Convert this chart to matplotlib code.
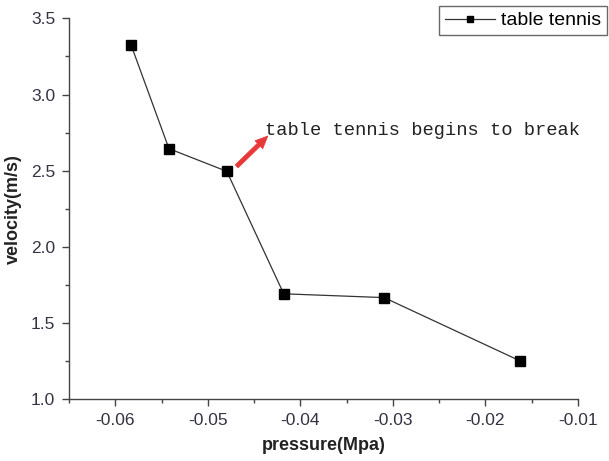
import matplotlib.pyplot as plt

# pressure vs. velocity for the table tennis ball
pressure = [-0.0583, -0.0542, -0.04795, -0.0418, -0.03095, -0.0163]
velocity = [3.327, 2.644, 2.495, 1.690, 1.665, 1.250]
x_ticks = [-0.06, -0.05, -0.04, -0.03, -0.02, -0.01]
y_ticks = [1.0, 1.5, 2.0, 2.5, 3.0, 3.5]

plt.rcParams['font.family'] = ['Liberation Sans', 'DejaVu Sans']

fig = plt.figure(figsize=(6.09, 4.61), dpi=100)
ax = fig.add_axes([0.1133, 0.135, 0.8358, 0.825])

ax.plot(pressure, velocity, color='#333333', lw=0.9, marker='s', ms=6.5,
        mfc='black', mec='black', label='table tennis')

ax.set_xlim(-0.065, -0.01)
ax.set_ylim(1.0, 3.5)
ax.set_xticks(x_ticks)
ax.set_xticklabels([f'{t:g}' for t in x_ticks])
ax.set_yticks(y_ticks)
ax.set_yticklabels([f'{t:.1f}' for t in y_ticks])
ax.set_xticks([t - 0.005 for t in x_ticks], minor=True)
ax.set_yticks([t + 0.25 for t in y_ticks[:-1]], minor=True)

for side in ['top', 'right']:
    ax.spines[side].set_visible(False)
for side in ['left', 'bottom']:
    ax.spines[side].set_color('#444444')
    ax.spines[side].set_linewidth(1.0)

ax.tick_params(which='major', direction='out', length=5, width=1,
               color='#444444', labelsize=12.5, labelcolor='#333344', pad=5)
ax.tick_params(which='minor', direction='out', length=3, width=1,
               color='#444444')

ax.set_xlabel('pressure(Mpa)', fontsize=13, fontweight='bold',
              color='#222222', labelpad=7)
ax.set_ylabel('velocity(m/s)', fontsize=13, fontweight='bold',
              color='#222222', labelpad=6)

# mark where the ball starts to break
ax.annotate('', xy=(-0.0433, 2.74), xytext=(-0.0471, 2.515),
            arrowprops=dict(arrowstyle='simple,head_width=0.8,head_length=0.9,tail_width=0.3',
                            fc='#e8393a', ec='#e8393a', lw=0.5))
ax.text(-0.0438, 2.765, 'table tennis begins to break', fontsize=13.5,
        family=['Liberation Mono', 'DejaVu Sans Mono'], color='#222222',
        va='center', ha='left')

leg = ax.legend(loc='upper right', bbox_to_anchor=(607 / 609, 1 - 6 / 461),
                bbox_transform=fig.transFigure, fontsize=14, frameon=True,
                fancybox=False, edgecolor='#444444', handlelength=2.6,
                handletextpad=0.3, borderpad=0.3, borderaxespad=0,
                markerscale=0.7)
leg.get_frame().set_linewidth(1.0)

fig.savefig('out.png', dpi=100)
